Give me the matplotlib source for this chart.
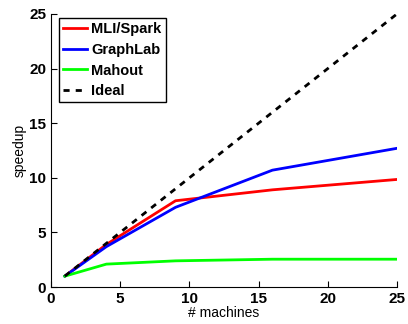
import matplotlib
matplotlib.use('Agg')
import matplotlib.pyplot as plt

# speedup vs number of machines
machines = [1, 4, 9, 16, 25]
mli_spark = [1.0, 3.9, 7.9, 8.9, 9.85]
graphlab = [1.0, 3.7, 7.3, 10.7, 12.7]
mahout = [1.0, 2.1, 2.4, 2.55, 2.55]
ideal = [1, 4, 9, 16, 25]

plt.rcParams['font.family'] = ['Liberation Sans', 'DejaVu Sans']

fig = plt.figure(figsize=(4.08, 3.24), dpi=100)
ax = fig.add_axes([0.125, 0.114, 0.848, 0.843])

ax.plot(machines, mli_spark, color='#ff0000', lw=2, label='MLI/Spark')
ax.plot(machines, graphlab, color='#0000ff', lw=2, label='GraphLab')
ax.plot(machines, mahout, color='#00ff00', lw=2, label='Mahout')
ax.plot(machines, ideal, color='black', lw=2, ls=(0, (2.2, 2.2)), label='Ideal')

ax.set_xlim(0, 25)
ax.set_ylim(0, 25)
ax.set_xticks([0, 5, 10, 15, 20, 25])
ax.set_yticks([0, 5, 10, 15, 20, 25])
ax.spines['top'].set_visible(False)
ax.spines['right'].set_visible(False)
ax.tick_params(direction='in', length=4, labelsize=11)
for lbl in ax.get_xticklabels() + ax.get_yticklabels():
    lbl.set_fontweight('bold')

ax.set_xlabel('# machines', fontsize=10, labelpad=0)
ax.set_ylabel('speedup', fontsize=10, labelpad=2)

leg = ax.legend(loc='upper left', bbox_to_anchor=(0.023, 0.985), borderaxespad=0,
                fancybox=False, edgecolor='black', framealpha=1, handlelength=1.6,
                handletextpad=0.3, borderpad=0.3, labelspacing=0.45,
                prop={'weight': 'bold', 'size': 10.5})
leg.get_frame().set_linewidth(1)

fig.savefig('out.png', dpi=100)
